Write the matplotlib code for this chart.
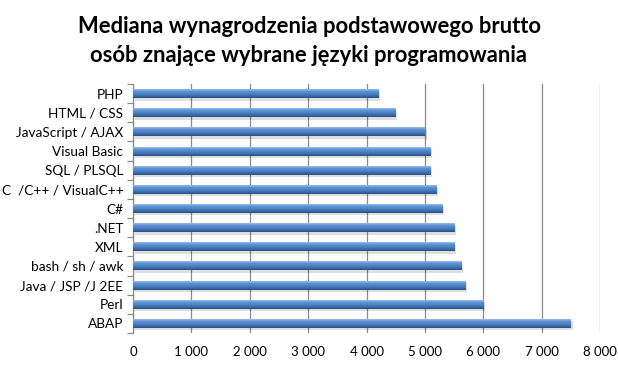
import matplotlib
matplotlib.use("Agg")
import matplotlib.pyplot as plt
import numpy as np
from matplotlib.colors import LinearSegmentedColormap

categories = ["ABAP", "Perl", "Java / JSP /J 2EE", "bash / sh / awk", "XML", ".NET",
              "C#", "C  /C++ / VisualC++", "SQL / PLSQL", "Visual Basic",
              "JavaScript / AJAX", "HTML / CSS", "PHP"]
values = [7500, 6000, 5700, 5630, 5500, 5500, 5300, 5200, 5100, 5100, 5000, 4500, 4200]
xticks = [0, 1000, 2000, 3000, 4000, 5000, 6000, 7000, 8000]
xtick_labels = ["0", "1 000", "2 000", "3 000", "4 000", "5 000", "6 000", "7 000", "8 000"]
title = "Mediana wynagrodzenia podstawowego brutto\nosób znające wybrane języki programowania"

plt.rcParams['font.family'] = ['Lato', 'DejaVu Sans']

fig = plt.figure(figsize=(6.18, 3.68), dpi=100)
ax = fig.add_axes([133/618, 1-333/368, (600-133)/618, (333-84)/368])

y = np.arange(len(categories))
bh = 0.47
bars = ax.barh(y, values, height=bh, color="#4a7ebb", edgecolor="none", zorder=3)

cmap = LinearSegmentedColormap.from_list(
    "bev",
    [(0.0, "#264d80"), (0.18, "#3869a8"), (0.45, "#4f84c6"), (0.7, "#5e94d6"),
     (0.85, "#97bcea"), (1.0, "#74a2dc")])
grad = np.linspace(0, 1, 64).reshape(-1, 1)
for b, v, yi in zip(bars, values, y):
    ax.barh(yi - 0.13, v, height=bh, left=30, color="#000000", alpha=0.13,
            edgecolor="none", zorder=2)
    im = ax.imshow(grad, cmap=cmap, aspect="auto",
                   extent=[0, v, yi - bh / 2, yi + bh / 2], origin="lower", zorder=4,
                   interpolation="bilinear")
    im.set_clip_path(b)

ax.set_xlim(0, 8000)
ax.set_ylim(-0.5, len(categories) - 0.5)
ax.set_xticks(xticks)
ax.set_xticklabels(xtick_labels)
ax.set_yticks(y)
ax.set_yticklabels(categories)
ax.set_yticks(np.arange(-0.5, len(categories), 1), minor=True)

ax.xaxis.grid(True, color="#8a8a8a", linewidth=0.9, zorder=0)
ax.set_axisbelow(True)
for s in ["top", "right", "bottom"]:
    ax.spines[s].set_visible(False)
ax.spines["left"].set_color("#8a8a8a")
ax.spines["left"].set_linewidth(0.9)

ax.tick_params(axis="x", length=0, pad=9, labelsize=9.5, labelcolor="#000000")
ax.tick_params(axis="y", which="major", length=0, pad=7, labelsize=9.8)
ax.tick_params(axis="y", which="minor", length=4, color="#8a8a8a", width=0.9)

fig.text(0.5, 1 - 41/368, title, ha="center", va="center", fontsize=15.8, fontweight="bold",
         linespacing=1.5)

fig.savefig("out.png", dpi=100, facecolor="white")
